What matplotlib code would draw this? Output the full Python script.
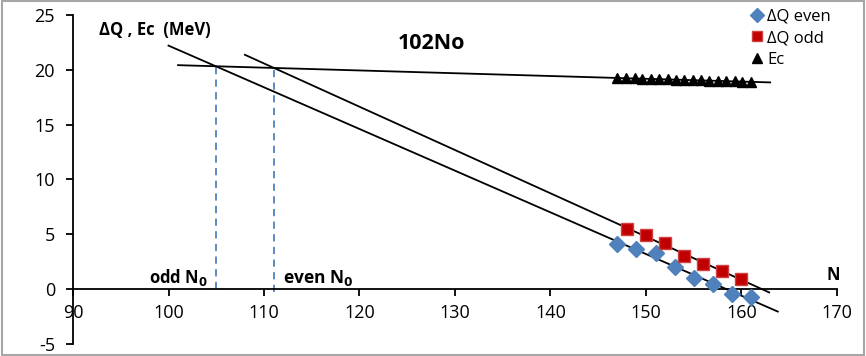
import numpy as np
import matplotlib
matplotlib.use("Agg")
import matplotlib.pyplot as plt
from matplotlib.patches import Rectangle

plt.rcParams['font.family'] = ['Open Sans', 'DejaVu Sans']
plt.rcParams['axes.unicode_minus'] = False

# ---- data ----
n_even = [147, 149, 151, 153, 155, 157, 159, 161]
dq_even = [4.1, 3.7, 3.3, 2.0, 1.0, 0.5, -0.4, -0.75]

n_odd = [148, 150, 152, 154, 156, 158, 160]
dq_odd = [5.5, 4.9, 4.2, 3.0, 2.3, 1.7, 0.9]

n_ec = [147, 147.9, 148.8, 149.6, 150.5, 151.4, 152.3, 153.1, 154,
        154.9, 155.8, 156.6, 157.5, 158.4, 159.3, 160.1, 161]
ec = [19.25, 19.23, 19.21, 19.19, 19.17, 19.15, 19.12, 19.10, 19.08,
      19.06, 19.03, 19.01, 18.99, 18.97, 18.94, 18.92, 18.90]

# trendline ranges (Excel forecast)
ec_range = (101, 163)
even_range = (100, 163.8)
odd_range = (108, 162.9)

x_ticks = [90, 100, 110, 120, 130, 140, 150, 160, 170]
y_ticks = [-5, 0, 5, 10, 15, 20, 25]

fig = plt.figure(figsize=(8.66, 3.56), dpi=100)
ax = fig.add_axes([0.0843, 0.0337, 0.8822, 0.9243])

blue = '#4F81BD'
red = '#C00000'

# fits
p_ec = np.polyfit(n_ec, ec, 1)
p_even = np.polyfit(n_even, dq_even, 1)
p_odd = np.polyfit(n_odd, dq_odd, 1)

for p, r in [(p_ec, ec_range), (p_even, even_range), (p_odd, odd_range)]:
    xs = np.array(r)
    ax.plot(xs, np.polyval(p, xs), color='black', lw=1.3, zorder=2)

# intersections
def inter(p1, p2):
    x = (p2[1] - p1[1]) / (p1[0] - p2[0])
    return x, np.polyval(p1, x)

xo, yo = inter(p_even, p_ec)
xe, ye = inter(p_odd, p_ec)
ax.plot([xo, xo], [0, yo], ls=(0, (4, 3)), color=blue, lw=1.3, zorder=1)
ax.plot([xe, xe], [-0.3, ye], ls=(0, (4, 3)), color=blue, lw=1.3, zorder=1)

ax.plot(n_even, dq_even, 'D', color=blue, markersize=8.5, ls='none',
        label='ΔQ even', zorder=3)
ax.plot(n_odd, dq_odd, 's', color=red, markeredgecolor='#D04040',
        markersize=9, ls='none', label='ΔQ odd', zorder=3)
ax.plot(n_ec, ec, '^', color='black', markersize=7, ls='none',
        label='Ec', zorder=3)

ax.set_xlim(90, 170)
ax.set_ylim(-5, 25)
ax.set_xticks(x_ticks)
ax.set_yticks(y_ticks)
ax.spines['top'].set_visible(False)
ax.spines['right'].set_visible(False)
ax.spines['bottom'].set_position(('data', 0))
ax.spines['left'].set_linewidth(1.3)
ax.spines['bottom'].set_linewidth(1.3)
ax.tick_params(axis='both', direction='out', length=5, width=1.3,
               labelsize=13, colors='black')
ax.tick_params(axis='x', pad=6)
ax.tick_params(axis='y', pad=8)
ax.patch.set_visible(False)

ax.text(98.6, 23.6, 'ΔQ , Ec  (MeV)', fontsize=12, fontweight='bold',
        ha='center', va='center')
ax.text(127.5, 22.4, '102No', fontsize=15.5, fontweight='bold',
        ha='center', va='center')
ax.text(169.6, 0.5, 'N', fontsize=12, fontweight='bold',
        ha='center', va='bottom')
ax.text(xo - 0.8, 0.1, 'odd N$_\\mathbf{0}$', fontsize=12, fontweight='bold',
        ha='right', va='bottom')
ax.text(xe + 0.9, 0.1, 'even N$_\\mathbf{0}$', fontsize=12.5, fontweight='bold',
        ha='left', va='bottom')

leg = fig.legend(loc='upper left', bbox_to_anchor=(0.857, 0.995),
                 frameon=False, fontsize=12, handletextpad=0.1,
                 handlelength=1.0, labelspacing=0.35, borderaxespad=0)
for h in leg.legend_handles:
    h.set_markersize(7)

fig.add_artist(Rectangle((0.002, 0.003), 0.996, 0.994, transform=fig.transFigure,
                         fill=False, edgecolor='#a6a6a6', lw=1.5))

fig.savefig('out.png', dpi=100)
